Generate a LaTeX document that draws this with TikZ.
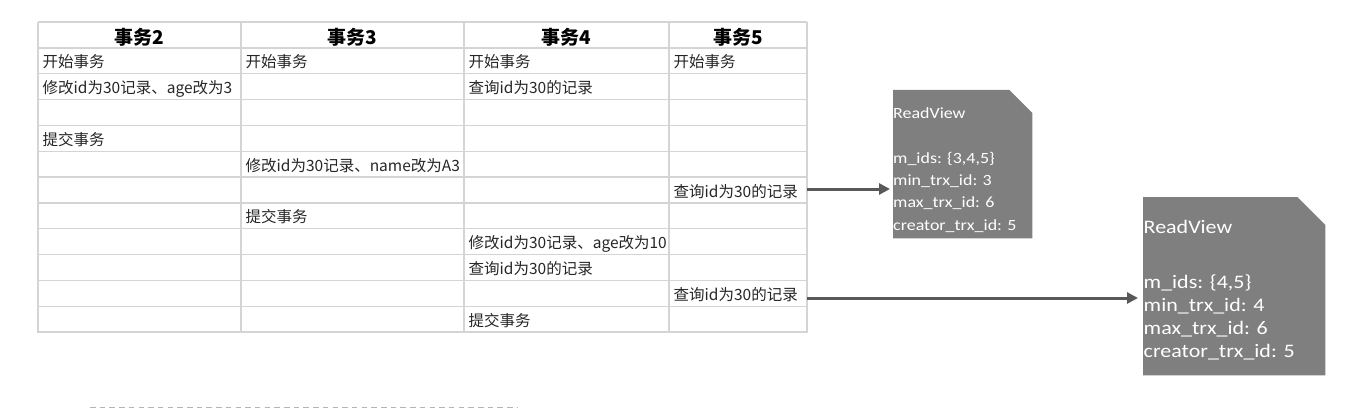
\documentclass[tikz,border=0pt]{standalone}
\usepackage{fontspec}
\newfontfamily\cjk{Noto Sans CJK SC}
\newfontfamily\rvfont[FakeStretch=1.15]{Carlito}
\usetikzlibrary{arrows.meta}
\definecolor{gridc}{HTML}{D4D4D4}
\definecolor{txt}{HTML}{262626}
\definecolor{rvfill}{HTML}{7F7F7F}
\definecolor{arr}{HTML}{595959}
\definecolor{dashc}{HTML}{B4B4B4}
\begin{document}
\begin{tikzpicture}[x=1pt,y=-1pt,
  gridline/.style={draw=gridc, line width=1.3pt},
  hdr/.style={font=\cjk\bfseries\fontsize{19}{22}\selectfont, text=black, inner sep=0pt, anchor=base},
  cell/.style={font=\cjk\fontsize{15.5}{18}\selectfont, text=txt, inner sep=0pt, anchor=base west},
  conn/.style={draw=arr, line width=3pt, -{Triangle[length=11pt,width=11pt]}},
  rvshape/.style={rectangle, inner sep=0pt, anchor=north west},
  rvsmall/.style={font=\rvfont\fontsize{15.6}{18}\selectfont, text=white, inner sep=0pt, anchor=base west},
  rvbig/.style={font=\rvfont\fontsize{19.1}{22}\selectfont, text=white, inner sep=0pt, anchor=base west}
]
\useasboundingbox (0,0) rectangle (1364,409);

% grid
\foreach \yy in {22,48,73.82,99.64,125.46,151.28,177.1,202.92,228.74,254.56,280.38,306.2,332.02}
  \draw[gridline] (38,\yy) -- (807,\yy);
\foreach \xx in {38,241,464,669,807}
  \draw[gridline] (\xx,22) -- (\xx,332.5);

% header
\node[hdr] (h2) at (139.5,44.5) {事务2};
\node[hdr] (h3) at (352.5,44.5) {事务3};
\node[hdr] (h4) at (566.5,44.5) {事务4};
\node[hdr] (h5) at (738,44.5) {事务5};

% cells
\node[cell] (c11) at (42.5,68) {开始事务};
\node[cell] (c12) at (245.5,68) {开始事务};
\node[cell] (c13) at (468.5,68) {开始事务};
\node[cell] (c14) at (673.5,68) {开始事务};
\node[cell] (c21) at (42.5,93.8) {修改id为30记录、age改为3};
\node[cell] (c23) at (468.5,93.8) {查询id为30的记录};
\node[cell] (c41) at (42.5,145.5) {提交事务};
\node[cell] (c52) at (245.5,171.3) {修改id为30记录、name改为A3};
\node[cell] (c64) at (673.5,197.1) {查询id为30的记录};
\node[cell] (c72) at (245.5,222.9) {提交事务};
\node[cell] (c83) at (468.5,248.7) {修改id为30记录、age改为10};
\node[cell] (c93) at (468.5,274.6) {查询id为30的记录};
\node[cell] (c104) at (673.5,300.4) {查询id为30的记录};
\node[cell] (c113) at (468.5,326.2) {提交事务};

% ReadView boxes
\node[rvshape, minimum width=139pt, minimum height=148pt] (rv1) at (893,90) {};
\fill[rvfill] (rv1.south west) -- (rv1.north west) -- ([xshift=-23pt]rv1.north east)
  -- ([yshift=-23pt]rv1.north east) -- (rv1.south east) -- cycle;
\node[rvsmall] (rv1a) at (893,118.3) {ReadView};
\node[rvsmall] (rv1b) at (893,163) {m\_ids: \{3,4,5\}};
\node[rvsmall] (rv1c) at (893,185.3) {min\_trx\_id: 3};
\node[rvsmall] (rv1d) at (893,207.6) {max\_trx\_id: 6};
\node[rvsmall] (rv1e) at (893,230) {creator\_trx\_id: 5};

\node[rvshape, minimum width=182pt, minimum height=178pt] (rv2) at (1143,197) {};
\fill[rvfill] (rv2.south west) -- (rv2.north west) -- ([xshift=-28pt]rv2.north east)
  -- ([yshift=-28pt]rv2.north east) -- (rv2.south east) -- cycle;
\node[rvbig] (rv2a) at (1143.5,233) {ReadView};
\node[rvbig] (rv2b) at (1143.5,288) {m\_ids: \{4,5\}};
\node[rvbig] (rv2c) at (1143.5,311) {min\_trx\_id: 4};
\node[rvbig] (rv2d) at (1143.5,334) {max\_trx\_id: 6};
\node[rvbig] (rv2e) at (1143.5,357) {creator\_trx\_id: 5};

% connectors
\coordinate (a1) at (807,189);
\coordinate (a2) at (807,298);
\draw[conn, shorten >=3pt] (a1) -- (a1 -| rv1.west);
\draw[conn, shorten >=5pt] (a2) -- (a2 -| rv2.west);

% dashed line
\coordinate (d1) at (90,407.5);
\coordinate (d2) at (517,407.5);
\draw[dashc, line width=1.5pt, dash pattern=on 5.5pt off 4.2pt] (d1) -- (d2);
\end{tikzpicture}
\end{document}
